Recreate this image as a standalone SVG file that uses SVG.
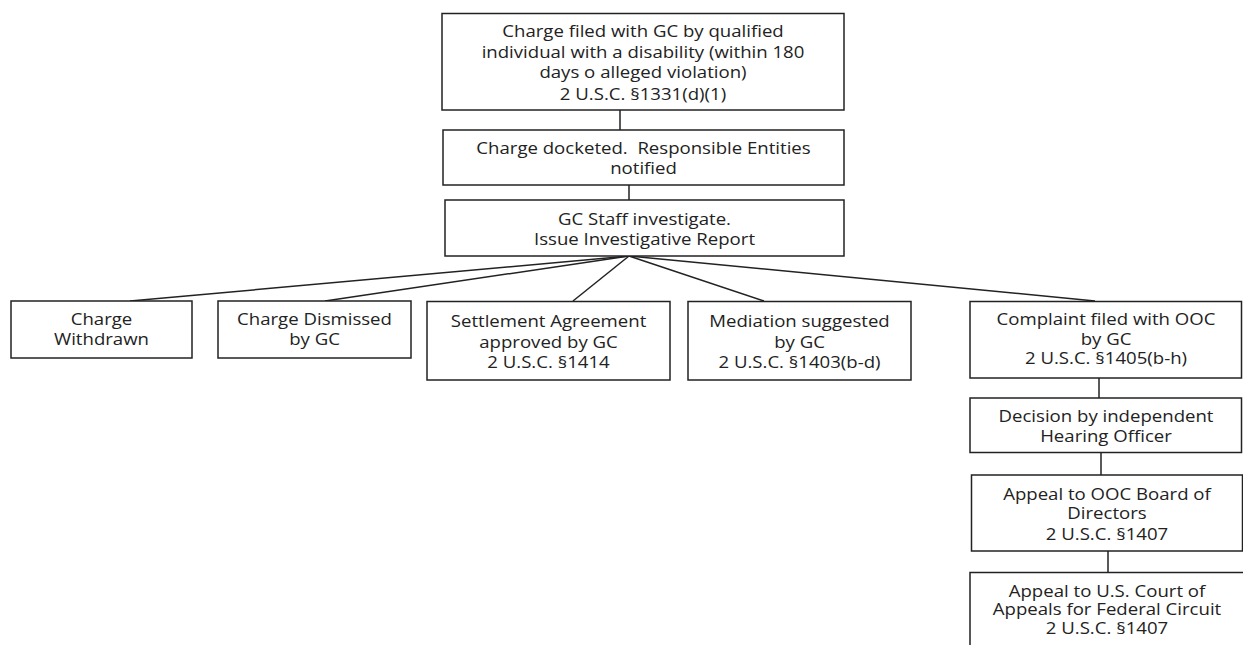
<svg xmlns="http://www.w3.org/2000/svg" width="1243" height="645" viewBox="0 0 1243 645">
<style>
.box{fill:#fff;stroke:#222;stroke-width:1.5}
.lbl{font-family:"Open Sans","Liberation Sans",sans-serif;font-size:15.5px;fill:#222;text-anchor:middle}
.conn{stroke:#222;stroke-width:1.5;fill:none}
</style>
<rect width="1243" height="645" fill="#fff"/>
<g id="connectors">
<line class="conn" x1="620" y1="110" x2="620" y2="130"/>
<line class="conn" x1="629" y1="185" x2="629" y2="200"/>
<line class="conn" x1="629" y1="256" x2="130" y2="301"/>
<line class="conn" x1="629" y1="256" x2="325" y2="301"/>
<line class="conn" x1="629" y1="256" x2="573" y2="301"/>
<line class="conn" x1="629" y1="256" x2="764" y2="301"/>
<line class="conn" x1="629" y1="256" x2="1095" y2="301"/>
<line class="conn" x1="1099" y1="378" x2="1099" y2="398"/>
<line class="conn" x1="1101" y1="452" x2="1101" y2="475"/>
<line class="conn" x1="1108" y1="551" x2="1108" y2="572"/>
</g>
<g id="n1">
<rect class="box" x="442" y="13.5" width="402" height="96.5"/>
<g transform="translate(643 0) scale(1.2 1)"><text class="lbl"><tspan x="0" y="37.5">Charge filed with GC by qualified</tspan><tspan x="0" y="58.5">individual with a disability (within 180</tspan><tspan x="0" y="78.5">days o alleged violation)</tspan><tspan x="0" y="100">2 U.S.C. §1331(d)(1)</tspan></text></g>
</g>
<g id="n2">
<rect class="box" x="443" y="130" width="401" height="55"/>
<g transform="translate(643.5 0) scale(1.2 1)"><text class="lbl"><tspan x="0" y="154" xml:space="preserve">Charge docketed.  Responsible Entities</tspan><tspan x="0" y="174">notified</tspan></text></g>
</g>
<g id="n3">
<rect class="box" x="445" y="200" width="399" height="56"/>
<g transform="translate(644.5 0) scale(1.2 1)"><text class="lbl"><tspan x="0" y="225">GC Staff investigate.</tspan><tspan x="0" y="245">Issue Investigative Report</tspan></text></g>
</g>
<g id="n4">
<rect class="box" x="11" y="301" width="181" height="57"/>
<g transform="translate(101.5 0) scale(1.2 1)"><text class="lbl"><tspan x="0" y="325.5">Charge</tspan><tspan x="0" y="345.5">Withdrawn</tspan></text></g>
</g>
<g id="n5">
<rect class="box" x="218" y="301" width="193" height="57"/>
<g transform="translate(314.5 0) scale(1.2 1)"><text class="lbl"><tspan x="0" y="325.5">Charge Dismissed</tspan><tspan x="0" y="345.5">by GC</tspan></text></g>
</g>
<g id="n6">
<rect class="box" x="427" y="301.5" width="243" height="78.5"/>
<g transform="translate(548.5 0) scale(1.2 1)"><text class="lbl"><tspan x="0" y="327">Settlement Agreement</tspan><tspan x="0" y="348.5">approved by GC</tspan><tspan x="0" y="368.5">2 U.S.C. §1414</tspan></text></g>
</g>
<g id="n7">
<rect class="box" x="688" y="301.5" width="223" height="78.5"/>
<g transform="translate(799.5 0) scale(1.2 1)"><text class="lbl"><tspan x="0" y="327">Mediation suggested</tspan><tspan x="0" y="348.5">by GC</tspan><tspan x="0" y="368.5">2 U.S.C. §1403(b-d)</tspan></text></g>
</g>
<g id="n8">
<rect class="box" x="970" y="301.5" width="271.5" height="76.5"/>
<g transform="translate(1106 0) scale(1.2 1)"><text class="lbl"><tspan x="0" y="325.5">Complaint filed with OOC</tspan><tspan x="0" y="345.5">by GC</tspan><tspan x="0" y="364.5">2 U.S.C. §1405(b-h)</tspan></text></g>
</g>
<g id="n9">
<rect class="box" x="970" y="398" width="271.5" height="54.5"/>
<g transform="translate(1106 0) scale(1.2 1)"><text class="lbl"><tspan x="0" y="422">Decision by independent</tspan><tspan x="0" y="442">Hearing Officer</tspan></text></g>
</g>
<g id="n10">
<rect class="box" x="971.5" y="475" width="271" height="76"/>
<g transform="translate(1107 0) scale(1.2 1)"><text class="lbl"><tspan x="0" y="500.5">Appeal to OOC Board of</tspan><tspan x="0" y="519.5">Directors</tspan><tspan x="0" y="540.5">2 U.S.C. §1407</tspan></text></g>
</g>
<g id="n11">
<rect class="box" x="970" y="572.5" width="280" height="90"/>
<g transform="translate(1107 0) scale(1.2 1)"><text class="lbl"><tspan x="0" y="597">Appeal to U.S. Court of</tspan><tspan x="0" y="615.5">Appeals for Federal Circuit</tspan><tspan x="0" y="634">2 U.S.C. §1407</tspan></text></g>
</g>
</svg>
